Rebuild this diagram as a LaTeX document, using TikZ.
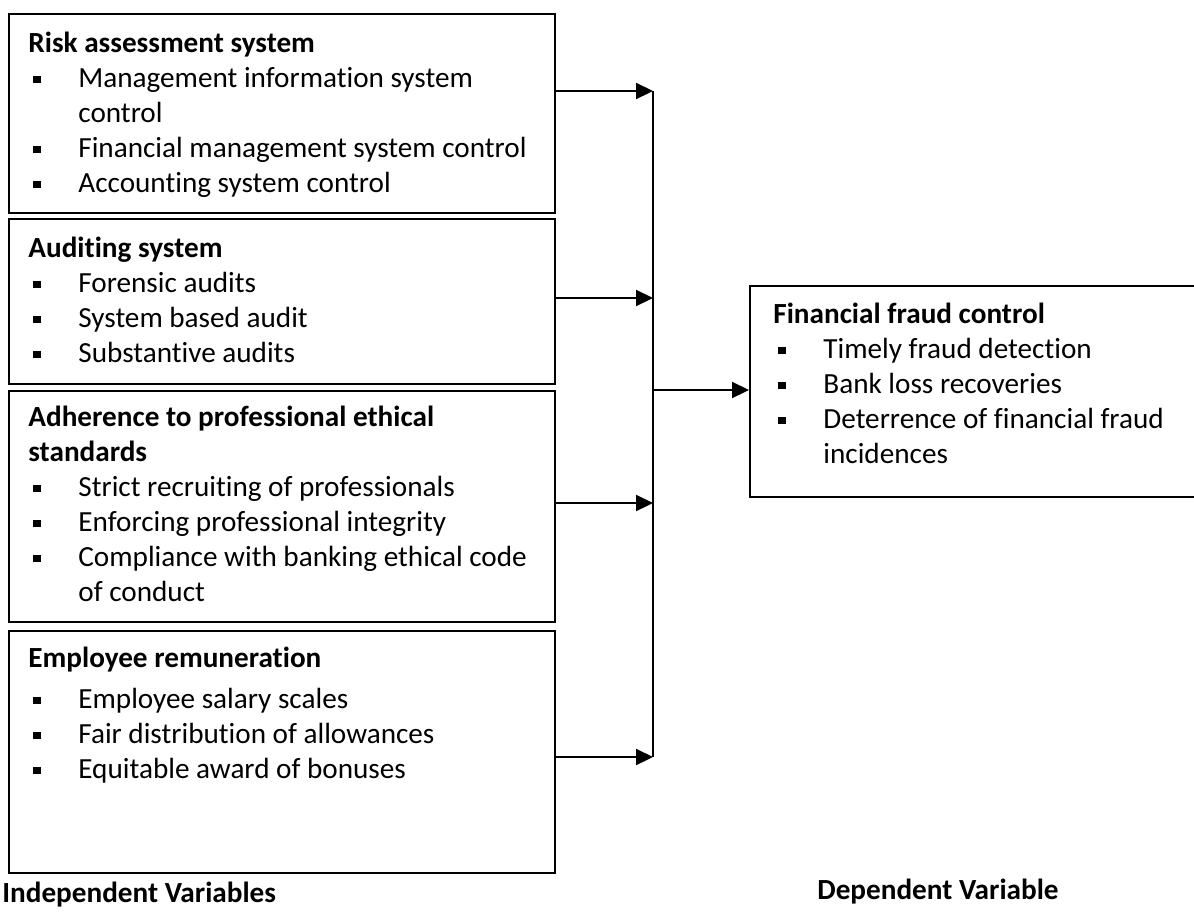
\documentclass[tikz,border=0pt]{standalone}
\usepackage{fontspec}
\setmainfont{Carlito}[Ligatures=NoCommon]
\usetikzlibrary{arrows.meta}
\newcommand\bitem{\makebox[25pt][l]{\hspace{2.5pt}\rule[1.8pt]{3.7pt}{3.8pt}}}
\newcommand\cont{\hspace*{25pt}}
\tikzset{
  varbox/.style={draw, line width=1pt, rectangle, inner sep=0pt, anchor=north west},
  boxtext/.style={anchor=base west, inner sep=0pt, font=\fontsize{14.6}{17.5}\selectfont},
  caption/.style={anchor=base west, inner sep=0pt, font=\fontsize{14.6}{17.5}\selectfont\bfseries},
  link/.style={line width=1.1pt, -{Triangle[length=8.5pt,width=8pt]}},
  bus/.style={line width=1pt}
}
\begin{document}
\begin{tikzpicture}[x=0.5pt,y=-0.5pt]
\clip (0,0) rectangle (1194,911);
\fill[white] (0,0) rectangle (1194,911);
% boxes
\node[varbox, minimum width=273pt, minimum height=99.5pt] (b1) at (8,13) {};
\node[varbox, minimum width=273pt, minimum height=82.5pt] (b2) at (8,218) {};
\node[varbox, minimum width=273pt, minimum height=115.5pt] (b3) at (8,390) {};
\node[varbox, minimum width=273pt, minimum height=121pt] (b4) at (8,630) {};
\node[varbox, minimum width=240pt, minimum height=105.5pt] (f) at (749,285) {};
% texts
\node[boxtext] (t1) at (28,52) {\begin{tabular}[t]{@{}l@{}}
\textbf{Risk assessment system}\\
\bitem Management information system\\
\cont control\\
\bitem Financial management system control\\
\bitem Accounting system control
\end{tabular}};
\node[boxtext] (t2) at (28,257) {\begin{tabular}[t]{@{}l@{}}
\textbf{Auditing system}\\
\bitem Forensic audits\\
\bitem System based audit\\
\bitem Substantive audits
\end{tabular}};
\node[boxtext] (t3) at (28,426) {\begin{tabular}[t]{@{}l@{}}
\textbf{Adherence to professional ethical}\\
\textbf{standards}\\
\bitem Strict recruiting of professionals\\
\bitem Enforcing professional integrity\\
\bitem Compliance with banking ethical code\\
\cont of conduct
\end{tabular}};
\node[boxtext] (t4) at (28,667) {\begin{tabular}[t]{@{}l@{}}
\textbf{Employee remuneration}\\[3pt]
\bitem Employee salary scales\\
\bitem Fair distribution of allowances\\
\bitem Equitable award of bonuses
\end{tabular}};
\node[boxtext] (tf) at (773,323) {\begin{tabular}[t]{@{}l@{}}
\textbf{Financial fraud control}\\
\bitem Timely fraud detection\\
\bitem Bank loss recoveries\\
\bitem Deterrence of financial fraud\\
\cont incidences
\end{tabular}};
% captions
\node[caption] (iv) at (2,902) {Independent Variables};
\node[caption] (dv) at (817,899) {Dependent Variable};
% connectors
\coordinate (j1) at (653,91);
\coordinate (j2) at (653,298);
\coordinate (j3) at (653,503);
\coordinate (j4) at (653,757);
\coordinate (jm) at (653,390);
\draw[bus] (j1) -- (j4);
\draw[link] (b1.east |- j1) -- (j1);
\draw[link] (b2.east |- j2) -- (j2);
\draw[link] (b3.east |- j3) -- (j3);
\draw[link] (b4.east |- j4) -- (j4);
\draw[link] (jm) -- (f.west |- jm);
\end{tikzpicture}
\end{document}
